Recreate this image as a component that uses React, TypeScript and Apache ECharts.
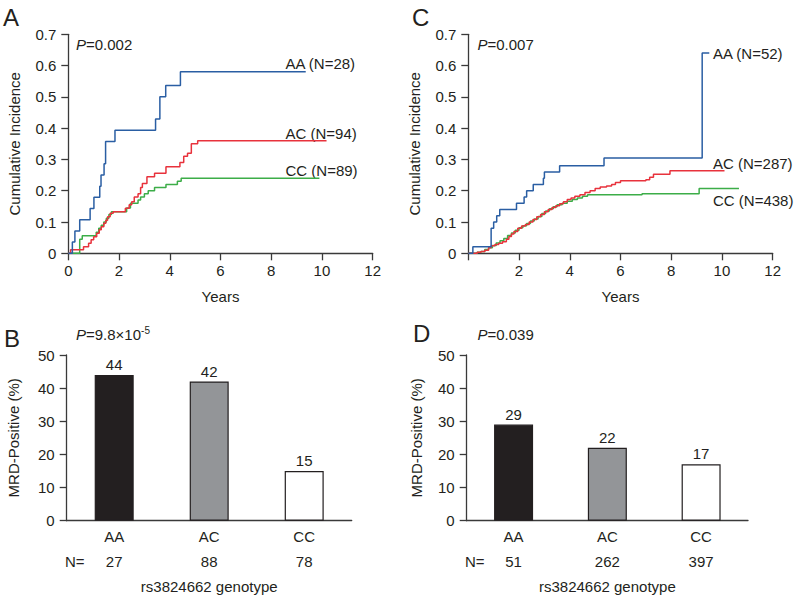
import React, { useEffect, useRef } from "react";
import * as echarts from "echarts";

// ---------- Data ----------
const genotypes = ["AA", "AC", "CC"];
const xTicksYears = [0, 2, 4, 6, 8, 10, 12];

// Panel A: cumulative incidence [years, incidence]
const incA_AA: [number, number][] = [
  [0, 0], [0.16, 0.036], [0.26, 0.071], [0.45, 0.107], [0.86, 0.143], [1.01, 0.179],
  [1.24, 0.214], [1.29, 0.25], [1.41, 0.286], [1.47, 0.357], [1.84, 0.393],
  [3.44, 0.429], [3.61, 0.5], [3.84, 0.536], [4.42, 0.58], [9.36, 0.58],
];
const incA_AC: [number, number][] = [
  [0, 0], [0.09, 0.011], [0.6, 0.021], [0.8, 0.032], [0.9, 0.043], [1.0, 0.053],
  [1.12, 0.064], [1.22, 0.075], [1.3, 0.085], [1.4, 0.096], [1.48, 0.106],
  [1.55, 0.117], [1.65, 0.128], [1.77, 0.133], [2.25, 0.144], [2.4, 0.155],
  [2.5, 0.165], [2.6, 0.18], [2.75, 0.19], [2.85, 0.21], [2.92, 0.223],
  [3.1, 0.245], [3.4, 0.256], [3.85, 0.277], [4.4, 0.29], [4.55, 0.31],
  [4.7, 0.32], [4.85, 0.35], [5.1, 0.36], [10.18, 0.36],
];
const incA_CC: [number, number][] = [
  [0, 0], [0.45, 0.045], [0.55, 0.056], [1.1, 0.067], [1.2, 0.08], [1.3, 0.09],
  [1.4, 0.1], [1.5, 0.112], [1.6, 0.124], [1.7, 0.133], [2.3, 0.145], [2.45, 0.16],
  [2.75, 0.17], [2.85, 0.18], [3.0, 0.19], [3.15, 0.2], [3.4, 0.21], [3.85, 0.22],
  [4.3, 0.23], [4.45, 0.24], [9.9, 0.24],
];

// Panel C
const incC_AA: [number, number][] = [
  [0, 0], [0.18, 0.021], [0.9, 0.08], [1.0, 0.1], [1.12, 0.12], [1.24, 0.14],
  [1.9, 0.16], [2.2, 0.18], [2.3, 0.2], [2.56, 0.22], [2.96, 0.24], [3.0, 0.26],
  [3.6, 0.28], [5.35, 0.305], [9.22, 0.64], [9.5, 0.64],
];
const incC_AC: [number, number][] = [
  [0, 0], [0.35, 0.003], [0.5, 0.006], [0.65, 0.01], [0.8, 0.018], [0.9, 0.024],
  [1.05, 0.028], [1.2, 0.032], [1.35, 0.037], [1.5, 0.045], [1.6, 0.054],
  [1.7, 0.062], [1.8, 0.07], [1.95, 0.08], [2.1, 0.087], [2.25, 0.092],
  [2.4, 0.1], [2.55, 0.108], [2.7, 0.117], [2.85, 0.124], [3.0, 0.133],
  [3.15, 0.14], [3.3, 0.146], [3.45, 0.152], [3.6, 0.158], [3.75, 0.165],
  [3.9, 0.172], [4.05, 0.177], [4.2, 0.182], [4.4, 0.187], [4.6, 0.194],
  [4.8, 0.2], [5.0, 0.207], [5.2, 0.212], [5.45, 0.215], [5.65, 0.22],
  [5.8, 0.226], [6.0, 0.232], [7.0, 0.235], [7.15, 0.243], [7.3, 0.253],
  [7.95, 0.264], [10.1, 0.264],
];
const incC_CC: [number, number][] = [
  [0, 0], [0.35, 0.003], [0.5, 0.006], [0.65, 0.012], [0.8, 0.018], [0.95, 0.025],
  [1.1, 0.033], [1.25, 0.04], [1.4, 0.047], [1.55, 0.057], [1.7, 0.065],
  [1.85, 0.074], [2.0, 0.082], [2.15, 0.088], [2.3, 0.095], [2.45, 0.103],
  [2.6, 0.11], [2.75, 0.118], [2.9, 0.127], [3.05, 0.135], [3.2, 0.142],
  [3.35, 0.149], [3.5, 0.155], [3.7, 0.16], [3.9, 0.166], [4.1, 0.172],
  [4.3, 0.177], [4.5, 0.182], [4.7, 0.187], [6.85, 0.19], [9.1, 0.207],
  [10.67, 0.207],
];

const curveLabelsA = ["AA (N=28)", "AC (N=94)", "CC (N=89)"];
const curveLabelsC = ["AA (N=52)", "AC (N=287)", "CC (N=438)"];

// Panels B and D: MRD-positive percentage and N per genotype
const mrdB = [44, 42, 15];
const nB = [27, 88, 78];
const mrdD = [29, 22, 17];
const nD = [51, 262, 397];

const pValA = "=0.002";
const pValC = "=0.007";
const pValD = "=0.039";

// ---------- Styles ----------
const FONT = "'Liberation Sans', Arial, Helvetica, sans-serif";
const INK = "#231f20";
const AXIS = "#3a3a3a";
const lineColors = ["#2a5ea3", "#e8323c", "#3cad48"];
const barColors = ["#231f20", "#939598", "#ffffff"];
const FS = 15;

export default function App() {
  const ref = useRef<HTMLDivElement>(null);

  useEffect(() => {
    if (!ref.current) return;
    const chart = echarts.init(ref.current, undefined, { renderer: "svg" });

    const axisLine = { show: true, lineStyle: { color: AXIS, width: 1.3 } };
    const axisTick = { show: true, length: 7, lineStyle: { color: AXIS, width: 1.3 } };
    const labelBase = { color: INK, fontSize: FS, fontFamily: FONT };

    const incX = (grid: number, hideZero: boolean) => ({
      type: "value",
      gridIndex: grid,
      min: 0,
      max: 12,
      interval: 2,
      axisLine,
      axisTick,
      splitLine: { show: false },
      axisLabel: {
        ...labelBase,
        margin: 10,
        formatter: (v: number) => (hideZero && v === 0 ? "" : String(v)),
      },
      name: "Years",
      nameLocation: "middle",
      nameGap: 36,
      nameTextStyle: { ...labelBase },
    });
    const incY = (grid: number) => ({
      type: "value",
      gridIndex: grid,
      min: 0,
      max: 0.7,
      interval: 0.1,
      axisLine,
      axisTick,
      splitLine: { show: false },
      axisLabel: {
        ...labelBase,
        margin: 12,
        formatter: (v: number) => (v === 0 ? "0" : v.toFixed(1)),
      },
      name: "Cumulative Incidence",
      nameLocation: "middle",
      nameGap: 46,
      nameTextStyle: { ...labelBase },
    });
    const barX = (grid: number, ns: number[]) => ({
      type: "category",
      gridIndex: grid,
      data: genotypes,
      axisLine,
      axisTick: { show: false },
      axisLabel: {
        ...labelBase,
        margin: 3,
        lineHeight: 25.5,
        formatter: (v: string, i: number) => `${v}\n${ns[i]}`,
      },
      name: "rs3824662 genotype",
      nameLocation: "middle",
      nameGap: 58,
      nameTextStyle: { ...labelBase },
    });
    const barY = (grid: number, gap: number) => ({
      type: "value",
      gridIndex: grid,
      min: 0,
      max: 50,
      interval: 10,
      axisLine,
      axisTick,
      splitLine: { show: false },
      axisLabel: { ...labelBase, margin: 12 },
      name: "MRD-Positive (%)",
      nameLocation: "middle",
      nameGap: gap,
      nameTextStyle: { ...labelBase },
    });

    const lineSeries = (data: [number, number][], color: string, idx: number, name: string) => ({
      type: "line",
      name,
      xAxisIndex: idx,
      yAxisIndex: idx,
      data,
      step: "end",
      showSymbol: false,
      symbol: "none",
      lineStyle: { color, width: 1.5 },
      z: 3,
    });
    const barSeries = (vals: number[], idx: number) => ({
      type: "bar",
      xAxisIndex: idx,
      yAxisIndex: idx,
      barWidth: 39,
      data: vals.map((v, i) => ({
        value: v,
        itemStyle: { color: barColors[i], borderColor: INK, borderWidth: 1.2 },
      })),
      label: { show: true, position: "top", distance: 3, ...labelBase },
    });

    const txt = (text: string, x: number, y: number, size = FS, extra: any = {}) => ({
      type: "text",
      x,
      y,
      style: {
        text,
        fill: INK,
        fontSize: size,
        fontFamily: FONT,
        textAlign: "left",
        textVerticalAlign: "middle",
        ...extra,
      },
    });
    const pText = (rest: string, x: number, y: number) => ({
      type: "text",
      x,
      y,
      style: {
        text: `{i|P}{n|${rest}}`,
        fill: INK,
        fontFamily: FONT,
        fontSize: FS,
        textAlign: "left",
        textVerticalAlign: "middle",
        rich: {
          i: { fontStyle: "italic", fontSize: FS, fontFamily: FONT, fill: INK },
          n: { fontSize: FS, fontFamily: FONT, fill: INK },
        },
      },
    });
    const pTextSci = (x: number, y: number) => ({
      type: "text",
      x,
      y,
      style: {
        text: "{i|P}{n|=9.8×10}{s|-5}",
        fill: INK,
        fontFamily: FONT,
        fontSize: FS,
        textAlign: "left",
        textVerticalAlign: "middle",
        rich: {
          i: { fontStyle: "italic", fontSize: FS, fontFamily: FONT, fill: INK, lineHeight: 18 },
          n: { fontSize: FS, fontFamily: FONT, fill: INK, lineHeight: 18 },
          s: { fontSize: 10, fontFamily: FONT, fill: INK, verticalAlign: "top", lineHeight: 18 },
        },
      },
    });

    const option: any = {
      animation: false,
      backgroundColor: "#ffffff",
      grid: [
        { left: 68.3, top: 34.3, width: 304.4, height: 219 },
        { left: 468.3, top: 34.3, width: 304.4, height: 219 },
        { left: 66.7, top: 355, width: 285, height: 165.7 },
        { left: 466.7, top: 355, width: 281.3, height: 165.7 },
      ],
      xAxis: [incX(0, false), incX(1, true), barX(2, nB), barX(3, nD)],
      yAxis: [incY(0), incY(1), barY(2, 46), barY(3, 43)],
      series: [
        lineSeries(incA_CC, lineColors[2], 0, "A-CC"),
        lineSeries(incA_AC, lineColors[1], 0, "A-AC"),
        lineSeries(incA_AA, lineColors[0], 0, "A-AA"),
        lineSeries(incC_CC, lineColors[2], 1, "C-CC"),
        lineSeries(incC_AC, lineColors[1], 1, "C-AC"),
        lineSeries(incC_AA, lineColors[0], 1, "C-AA"),
        barSeries(mrdB, 2),
        barSeries(mrdD, 3),
      ],
      graphic: [
        txt("A", 3, 17, 24),
        txt("C", 412, 17, 24),
        txt("B", 4, 338, 24),
        txt("D", 413, 333, 24),
        pText(pValA, 76, 44),
        pText(pValC, 477.5, 44),
        pTextSci(76, 334),
        pText(pValD, 477.5, 334),
        txt(curveLabelsA[0], 285.5, 63.5),
        txt(curveLabelsA[1], 285.5, 133.5),
        txt(curveLabelsA[2], 285.5, 170),
        txt(curveLabelsC[0], 713, 53.5),
        txt(curveLabelsC[1], 713, 163.5),
        txt(curveLabelsC[2], 713, 200),
        txt("N=", 65, 561.5),
        txt("N=", 465, 561.5),
      ],
    };

    chart.setOption(option);
    return () => {
      chart.dispose();
    };
  }, []);

  return (
    <div
      ref={ref}
      style={{ position: "fixed", left: 0, top: 0, width: 800, height: 598, background: "#fff" }}
    />
  );
}
